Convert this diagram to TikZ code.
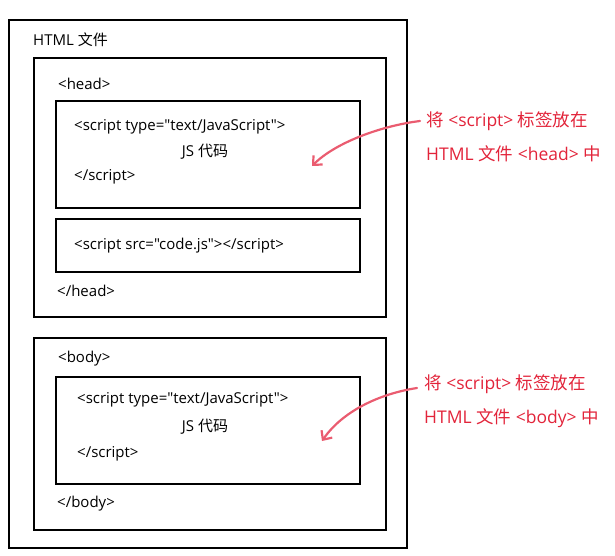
\documentclass[tikz,border=0pt]{standalone}
\usepackage{fontspec}
\setmainfont{Open Sans}[Ligatures=TeXOff]
\newfontfamily\cjk{Noto Sans CJK SC}
\usetikzlibrary{positioning, arrows.meta}
\definecolor{notered}{RGB}{226,36,58}
\definecolor{arrowpink}{RGB}{234,92,112}
\tikzset{
    >=Stealth,
    box/.style={draw, line width=1.3pt, inner sep=0pt},
    code/.style={anchor=west, inner sep=0pt, font=\fontsize{15}{17}\selectfont},
    note/.style={anchor=west, inner sep=0pt, text=notered, align=left, font=\fontsize{17.5}{34}\selectfont},
    hint/.style={arrowpink, line width=2.2pt, line cap=round, arrows={-Straight Barb[length=7pt,width=13pt]}}
}

\begin{document}
\begin{tikzpicture}[x=1pt, y=-1pt]
\useasboundingbox (0,0) rectangle (615,556);

% Boxes
\node[box, minimum width=398pt, minimum height=528pt] (file) at (208,284) {};
\node[box, minimum width=352pt, minimum height=259pt] (head) at (210,187.5) {};
\node[box, minimum width=304pt, minimum height=107pt] (inline1) at (208,154.5) {};
\node[box, minimum width=304pt, minimum height=53pt] (extern) at (208,245.5) {};
\node[box, minimum width=352pt, minimum height=192pt] (body) at (210,434) {};
\node[box, minimum width=304pt, minimum height=107pt] (inline2) at (208,430.5) {};

% Texts
\node[code] (filelabel) at (33,40) {HTML {\cjk 文件}};
\node[code] (headopen) at (58,84) {<head>};
\node[code] (s1open) at (74,127) {<script type="text/JavaScript">};
\node[code, anchor=center] (s1code) at (205,152) {JS {\cjk 代码}};
\node[code] (s1close) at (74,177) {</script>};
\node[code] (s2) at (74,246) {<script src="code.js"></script>};
\node[code] (headclose) at (57,291) {</head>};
\node[code] (bodyopen) at (58,359) {<body>};
\node[code] (s3open) at (77,400) {<script type="text/JavaScript">};
\node[code, anchor=center] (s3code) at (205,427) {JS {\cjk 代码}};
\node[code] (s3close) at (77,454) {</script>};
\node[code] (bodyclose) at (57,504) {</body>};

% Notes
\node[note] (note1) at (426,137) {{\cjk 将} <script> {\cjk 标签放在}\\HTML {\cjk 文件} <head> {\cjk 中}};
\node[note] (note2) at (424,401) {{\cjk 将} <script> {\cjk 标签放在}\\HTML {\cjk 文件} <body> {\cjk 中}};
\coordinate (start1) at (420,121);
\coordinate (tip1) at (312,166);
\coordinate (start2) at (417,388);
\coordinate (tip2) at (322,441);

% Arrows
\draw[hint] (start1) .. controls (380,126) and (335,143) .. (tip1);
\draw[hint] (start2) .. controls (378,394) and (342,412) .. (tip2);

\end{tikzpicture}
\end{document}
